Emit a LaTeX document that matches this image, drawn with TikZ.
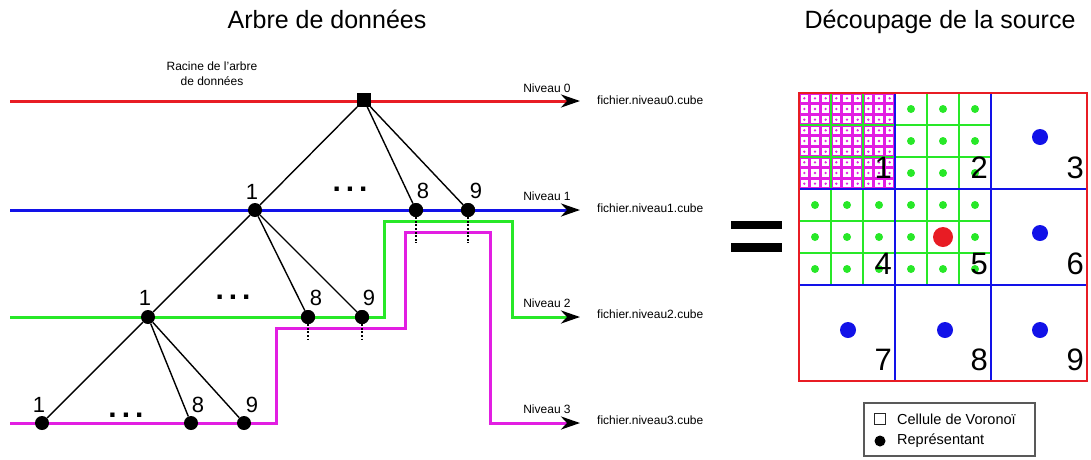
\documentclass[tikz,border=0pt]{standalone}
\usepackage{fontspec}
\setmainfont{Liberation Sans}
\usetikzlibrary{arrows.meta}
\definecolor{myred}{RGB}{232,28,36}
\definecolor{myblue}{RGB}{18,18,232}
\definecolor{mygreen}{RGB}{40,232,40}
\definecolor{mymag}{RGB}{226,30,226}
\begin{document}
\begin{tikzpicture}[x=1pt,y=-1pt,
  lvl/.style={line width=3pt},
  arr/.style={-{Stealth[length=19pt,width=13pt,inset=6pt,color=black]}},
  treenode/.style={circle,fill=black,inner sep=0pt,minimum size=14pt},
  rootbox/.style={rectangle,fill=black,inner sep=0pt,minimum size=13.5pt},
  treeedge/.style={line width=1.4pt},
  dotline/.style={line width=1.5pt,dash pattern=on 2pt off 1.6pt},
  digit/.style={font=\fontsize{22}{22}\selectfont,inner sep=0pt},
  ellip/.style={font=\bfseries\fontsize{30}{30}\selectfont,inner sep=0pt},
  small/.style={font=\fontsize{12}{15}\selectfont,inner sep=0pt},
  title/.style={font=\fontsize{25}{25}\selectfont,inner sep=0pt,anchor=base},
  celldigit/.style={font=\fontsize{31}{31}\selectfont,inner sep=0pt,anchor=south east},
  greenline/.style={mygreen,line width=2.6pt},
  blueline/.style={myblue,line width=2.2pt},
  legtext/.style={font=\fontsize{14.5}{16}\selectfont,inner sep=0pt,anchor=west}
]
\useasboundingbox (0,0) rectangle (1091,459);

% titles
\node[title] (t1) at (327,28) {Arbre de données};
\node[title] (t2) at (940,28) {Découpage de la source};

% level lines
\coordinate (r0s) at (10,101); \coordinate (r0e) at (580,101);
\coordinate (r1s) at (10,210); \coordinate (r1e) at (580,210);
\coordinate (g0) at (10,317); \coordinate (g1) at (384,317);
\coordinate (g2) at (384,221); \coordinate (g3) at (512,221);
\coordinate (g4) at (512,317); \coordinate (g5) at (580,317);
\coordinate (m0) at (10,423); \coordinate (m1) at (276,423);
\coordinate (m2) at (276,328); \coordinate (m3) at (405,328);
\coordinate (m4) at (405,232); \coordinate (m5) at (490,232);
\coordinate (m6) at (490,423); \coordinate (m7) at (580,423);

\draw[lvl,myred,arr] (r0s) -- (r0e);
\draw[lvl,myblue,arr] (r1s) -- (r1e);
\draw[lvl,mygreen,arr,line join=miter] (g0) -- (g1) -- (g2) -- (g3) -- (g4) -- (g5);
\draw[lvl,mymag,arr,line join=miter] (m0) -- (m1) -- (m2) -- (m3) -- (m4) -- (m5) -- (m6) -- (m7);

% dotted drops
\coordinate (d1) at (416,243); \coordinate (d2) at (468,243);
\coordinate (d3) at (308,339); \coordinate (d4) at (362,339);

% tree nodes
\node[rootbox] (root) at (364,100) {};
\node[treenode] (a1) at (255,210) {};
\node[treenode] (a8) at (416,210) {};
\node[treenode] (a9) at (468,210) {};
\node[treenode] (b1) at (148,317) {};
\node[treenode] (b8) at (308,317) {};
\node[treenode] (b9) at (362,317) {};
\node[treenode] (c1) at (42,423) {};
\node[treenode] (c8) at (191,423) {};
\node[treenode] (c9) at (244,423) {};

\draw[dotline] (a8.center) -- (d1);
\draw[dotline] (a9.center) -- (d2);
\draw[dotline] (b8.center) -- (d3);
\draw[dotline] (b9.center) -- (d4);
\node[treenode] at (a8) {};
\node[treenode] at (a9) {};
\node[treenode] at (b8) {};
\node[treenode] at (b9) {};

\draw[treeedge] (root) -- (a1);
\draw[treeedge] (root) -- (a8);
\draw[treeedge] (root) -- (a9);
\draw[treeedge] (a1) -- (b1);
\draw[treeedge] (a1) -- (b8);
\draw[treeedge] (a1) -- (b9);
\draw[treeedge] (b1) -- (c1);
\draw[treeedge] (b1) -- (c8);
\draw[treeedge] (b1) -- (c9);

% digit labels
\node[digit] (la1) at (252,192) {1};
\node[digit] (la8) at (423,191) {8};
\node[digit] (la9) at (476,191) {9};
\node[digit] (lb1) at (145,298) {1};
\node[digit] (lb8) at (316,298) {8};
\node[digit] (lb9) at (369,298) {9};
\node[digit] (lc1) at (39,405) {1};
\node[digit] (lc8) at (198,405) {8};
\node[digit] (lc9) at (252,405) {9};

% ellipses
\node[ellip,anchor=base] (e1) at (350,191) {.\kern5pt.\kern5pt.};
\node[ellip,anchor=base] (e2) at (233,299) {.\kern5pt.\kern5pt.};
\node[ellip,anchor=base] (e3) at (126,417) {.\kern5pt.\kern5pt.};

% level texts
\node[small] (n0) at (547,88) {Niveau 0};
\node[small] (n1) at (547,196) {Niveau 1};
\node[small] (n2) at (547,303) {Niveau 2};
\node[small] (n3) at (547,409) {Niveau 3};
\node[small,anchor=west] (f0) at (597,100) {fichier.niveau0.cube};
\node[small,anchor=west] (f1) at (597,208) {fichier.niveau1.cube};
\node[small,anchor=west] (f2) at (597,314) {fichier.niveau2.cube};
\node[small,anchor=west] (f3) at (597,420) {fichier.niveau3.cube};
\node[small,align=center] (rac) at (212,74) {Racine de l'arbre\\de données};

% equals sign
\fill (731,221) rectangle (782,229);
\fill (731,243) rectangle (782,252);

% right grid: cell 1 fine grid
\fill[mymag] (799,93) rectangle (895,189);
\foreach \i in {0,...,8} {
  \foreach \j in {0,...,8} {
    \fill[white] ({799+\i*96/9+1.55},{93+\j*96/9+1.55}) rectangle ++(7.57,7.57);
    \fill[mymag] ({799+(\i+0.5)*96/9},{93+(\j+0.5)*96/9}) circle (1.3pt);
  }
}
% green sub-grid
\foreach \x in {831,863,927,959} {
  \draw[greenline] (\x,93) -- (\x,285);
}
\foreach \y in {125,157,221,253} {
  \draw[greenline] (799,\y) -- (991,\y);
}
% green dots
\foreach \i in {0,...,5} {
  \foreach \j in {0,...,5} {
    \pgfmathtruncatemacro{\incellone}{(\i<3)&&(\j<3)}
    \pgfmathtruncatemacro{\isred}{(\i==4)&&(\j==4)}
    \ifnum\incellone=0 \ifnum\isred=0
      \fill[mygreen] ({799+16+32*\i},{93+16+32*\j}) circle (4pt);
    \fi\fi
  }
}
\fill[myred] (943,237) circle (10pt);
% blue grid
\draw[blueline] (895,93) -- (895,381);
\draw[blueline] (991,93) -- (991,381);
\draw[blueline] (799,189) -- (1087,189);
\draw[blueline] (799,285) -- (1087,285);
% red border
\draw[myred,line width=2.6pt] (799,93) rectangle (1087,381);
% blue dots
\fill[myblue] (1040,137) circle (8pt);
\fill[myblue] (1040,233) circle (8pt);
\fill[myblue] (848,330) circle (8pt);
\fill[myblue] (945,330) circle (8pt);
\fill[myblue] (1040,330) circle (8pt);
% cell digits
\node[celldigit] (k1) at (892,179) {1};
\node[celldigit] (k2) at (988,179) {2};
\node[celldigit] (k3) at (1084,179) {3};
\node[celldigit] (k4) at (892,275) {4};
\node[celldigit] (k5) at (988,275) {5};
\node[celldigit] (k6) at (1084,275) {6};
\node[celldigit] (k7) at (892,371) {7};
\node[celldigit] (k8) at (988,371) {8};
\node[celldigit] (k9) at (1084,371) {9};

% legend
\node[draw=black!65,line width=1.3pt,minimum width=171pt,minimum height=53pt,inner sep=0pt] (legend) at (949.5,429.5) {};
\node[draw=black!85,line width=1.2pt,minimum size=11pt,inner sep=0pt] (lsq) at (880,419) {};
\node[circle,fill=black,minimum size=11pt,inner sep=0pt] (ldot) at (880,441) {};
\node[legtext] (lt1) at (897,419) {Cellule de Voronoï};
\node[legtext] (lt2) at (897,441) {Représentant};
\end{tikzpicture}
\end{document}
